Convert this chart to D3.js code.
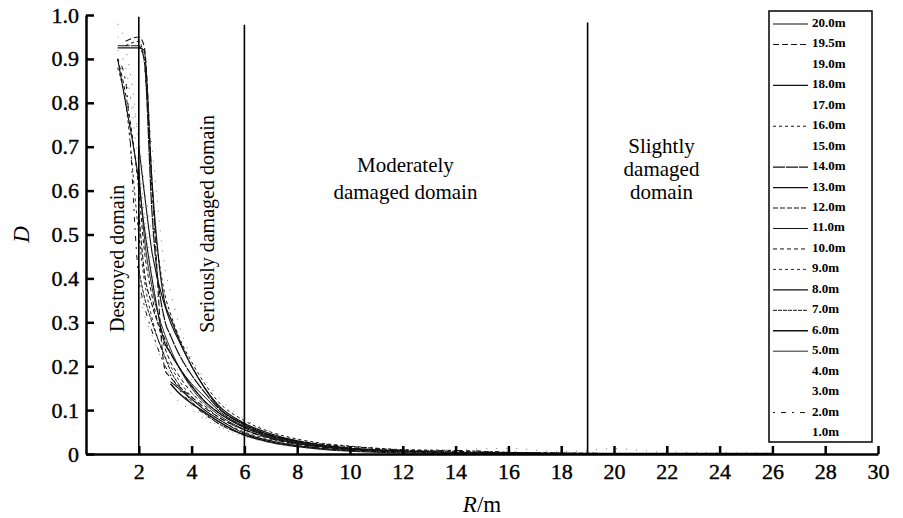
<!DOCTYPE html>
<html>
<head>
<meta charset="utf-8">
<script src="https://cdn.jsdelivr.net/npm/d3@7/dist/d3.min.js"></script>
<style>
  body { margin: 0; background: #fff; }
  text { font-family: "Liberation Serif", "Times New Roman", serif; fill: #000; }
</style>
</head>
<body>
<svg id="chart" width="903" height="518"></svg>
<script>
// datos (R en m, D adimensional)
const _ = null;
const radius = [1.2, 1.5, 2.0, 2.2, 2.5, 3.0, 3.2, 3.5, 4.0, 4.5, 5.0, 6.0, 7.0, 8.0, 9.0, 10.0, 12.0, 14.0, 16.0, 18.0, 20.0, 22.0, 24.0, 26.0];

const depths = ["20.0m", "19.5m", "19.0m", "18.0m", "17.0m", "16.0m", "15.0m", "14.0m", "13.0m", "12.0m",
  "11.0m", "10.0m", "9.0m", "8.0m", "7.0m", "6.0m", "5.0m", "4.0m", "3.0m", "2.0m", "1.0m"];

const d20_0 = [0.925,0.925,0.925,0.92,0.62,0.34,0.31,0.265,0.2,0.15,0.112,0.07,0.046,0.03,0.02,0.013,0.006,0.003,0.002,0.001,0.001,0.001,0.001,0.001];
const d19_5 = [_,0.94,0.95,0.93,0.62,0.19,0.175,0.155,0.13,0.105,0.085,0.055,0.035,0.022,0.015,0.01,0.005,0.003,0.002,0.001,0.001,_,_,_];
const d19_0 = [0.98,0.95,0.94,0.88,0.7,0.42,0.37,0.3,0.22,0.17,0.13,0.08,0.052,0.034,0.024,0.017,0.008,0.01,0.013,0.005,0.012,0.004,0.003,0.002];
const d18_0 = [_,_,0.7,0.6,0.46,0.335,0.3,0.26,0.2,0.15,0.108,0.068,0.043,0.028,0.019,0.013,0.006,0.003,0.002,0.001,0.001,_,_,_];
const d17_0 = [0.9,0.85,0.72,0.62,0.5,0.36,0.32,0.27,0.2,0.15,0.11,0.07,0.045,0.03,0.02,0.014,0.007,0.004,0.002,0.001,_,_,_,_];
const d16_0 = [_,0.93,0.94,0.9,0.6,0.36,0.32,0.27,0.21,0.16,0.12,0.076,0.05,0.034,0.024,0.018,0.01,0.008,0.004,0.002,0.001,_,_,_];
const d15_0 = [0.92,0.88,0.65,0.55,0.42,0.3,0.27,0.23,0.17,0.13,0.1,0.062,0.04,0.026,0.017,0.012,0.006,0.003,_,_,_,_,_,_];
const d14_0 = [0.93,0.93,0.93,0.9,0.55,0.3,0.27,0.23,0.18,0.14,0.105,0.066,0.042,0.028,0.019,0.013,0.007,0.004,0.002,0.001,0.001,0.001,0.001,_];
const d13_0 = [0.9,0.8,0.62,0.52,0.4,0.25,0.23,0.2,0.155,0.12,0.095,0.06,0.038,0.024,0.016,0.011,0.005,0.003,0.002,0.001,0.001,0.001,0.001,0.001];
const d12_0 = [_,_,0.55,0.42,0.34,0.26,0.23,0.2,0.155,0.12,0.095,0.062,0.042,0.03,0.022,0.017,0.009,0.006,0.003,0.002,0.001,_,_,_];
const d11_0 = [_,_,_,_,_,0.25,0.23,0.2,0.16,0.13,0.1,0.063,0.04,0.026,0.017,0.011,0.005,0.003,0.002,0.001,0.001,_,_,_];
const d10_0 = [0.9,0.82,0.6,0.47,0.36,0.24,0.21,0.18,0.14,0.11,0.085,0.055,0.037,0.025,0.018,0.013,0.007,0.004,0.002,0.001,_,_,_,_];
const d9_0  = [0.88,0.8,0.5,0.4,0.31,0.22,0.2,0.17,0.13,0.1,0.08,0.05,0.033,0.022,0.015,0.01,0.005,0.003,0.001,_,_,_,_,_];
const d8_0  = [_,_,_,_,_,_,0.165,0.15,0.125,0.1,0.08,0.047,0.03,0.019,0.012,0.008,0.004,0.002,0.001,_,_,_,_,_];
const d7_0  = [_,_,0.42,0.36,0.3,0.22,0.19,0.16,0.12,0.092,0.07,0.044,0.028,0.018,0.012,0.008,0.004,0.002,0.001,0.001,_,_,_,_];
const d6_0  = [_,_,_,_,_,_,0.16,0.14,0.115,0.095,0.075,0.043,0.027,0.017,0.011,0.007,0.003,0.002,0.001,0.001,0.001,0.001,0.001,0.001];
const d5_0  = [_,_,0.65,0.5,0.38,0.27,0.24,0.2,0.15,0.115,0.09,0.056,0.036,0.024,0.016,0.011,0.005,0.003,0.001,_,_,_,_,_];
const d4_0  = [_,_,_,_,_,_,0.14,0.12,0.1,0.08,0.062,0.04,0.025,0.016,0.01,0.007,0.003,0.002,_,_,_,_,_,_];
const d3_0  = [_,_,0.38,0.32,0.27,0.2,0.18,0.15,0.11,0.085,0.065,0.041,0.026,0.017,0.011,0.007,0.003,0.001,_,_,_,_,_,_];
const d2_0  = [0.9,0.85,0.4,0.34,0.28,0.2,0.18,0.15,0.115,0.09,0.07,0.045,0.03,0.02,0.014,0.01,0.006,0.008,0.004,0.002,0.001,0.001,_,_];
const d1_0  = [0.95,0.92,0.7,0.55,0.4,0.26,0.23,0.19,0.14,0.11,0.085,0.052,0.033,0.021,0.014,0.009,0.004,0.002,0.001,_,_,_,_,_];

const seriesValues = [d20_0, d19_5, d19_0, d18_0, d17_0, d16_0, d15_0, d14_0, d13_0, d12_0,
  d11_0, d10_0, d9_0, d8_0, d7_0, d6_0, d5_0, d4_0, d3_0, d2_0, d1_0];

const xTicks = [2, 4, 6, 8, 10, 12, 14, 16, 18, 20, 22, 24, 26, 28, 30];
const yTicks = [0, 0.1, 0.2, 0.3, 0.4, 0.5, 0.6, 0.7, 0.8, 0.9, 1.0];

// limites de zonas de dano
const boundaries = [2, 6, 19];
const boundaryTop = [0.996, 0.978, 0.983];

// estilos por serie (null = sin muestra en la leyenda, casi invisible)
const lineDash = ["none", "6,3", null, "none", null, "3,3", null, "12,1", "none", "5,2",
  "none", "4,3", "3,3", "none", "4,1", "none", "none", null, null, "2,6,5,6", null];
const lineWidth = [1.2, 1.1, 1, 1.1, 1, 1, 1, 1.2, 1.1, 1.1, 1, 1, 0.9, 1.1, 1, 1.5, 0.9, 1, 1, 1, 1];

const svg = d3.select("#chart");

const x = d3.scaleLinear().domain([0, 30]).range([86, 878]);
const y = d3.scaleLinear().domain([0, 1]).range([454, 15]);

// Curvas
const line = d3.line()
  .defined(d => d[1] != null)
  .x(d => x(d[0]))
  .y(d => y(d[1]))
  .curve(d3.curveMonotoneX);

seriesValues.forEach((vals, i) => {
  const pts = radius.map((r, j) => [r, vals[j]]);
  svg.append("path")
    .attr("d", line(pts))
    .attr("fill", "none")
    .attr("stroke", lineDash[i] == null ? "#777" : "#111")
    .attr("stroke-width", lineWidth[i])
    .attr("stroke-dasharray", lineDash[i] == null ? "1,9" : lineDash[i]);
});

// Lineas verticales de zonas
boundaries.forEach((b, i) => {
  svg.append("line")
    .attr("x1", x(b)).attr("x2", x(b))
    .attr("y1", y(0)).attr("y2", y(boundaryTop[i]))
    .attr("stroke", "#000")
    .attr("stroke-width", 1.6);
});

// Ejes
const xAxis = svg.append("g")
  .attr("transform", `translate(0,${y(0)})`)
  .call(d3.axisBottom(x).tickValues(xTicks).tickSizeInner(-8).tickSizeOuter(0).tickPadding(9).tickFormat(d3.format("d")));

const yAxis = svg.append("g")
  .attr("transform", `translate(${x(0)},0)`)
  .call(d3.axisLeft(y).tickValues(yTicks).tickSizeInner(-8).tickSizeOuter(0).tickPadding(7)
    .tickFormat(d => d === 0 ? "0" : d.toFixed(1)));

[xAxis, yAxis].forEach(a => {
  a.attr("font-family", "Liberation Serif").attr("font-size", 22);
  a.select(".domain").attr("stroke", "#000").attr("stroke-width", 2.5);
  a.selectAll(".tick line").attr("stroke", "#000").attr("stroke-width", 2.5);
  a.selectAll(".tick text")
    .attr("fill", "#000")
    .attr("stroke", "#000")
    .attr("stroke-width", 0.4);
});

// Titulos de ejes
svg.append("text")
  .attr("transform", `translate(29,${y(0.5)}) rotate(-90)`)
  .attr("text-anchor", "middle")
  .style("font-size", "23px")
  .style("font-style", "italic")
  .text("D");

const xt = svg.append("text")
  .attr("x", (x(0) + x(30)) / 2)
  .attr("y", 512)
  .attr("text-anchor", "middle")
  .style("font-size", "23px");
xt.append("tspan").style("font-style", "italic").text("R");
xt.append("tspan").text("/m");

// Etiquetas de dominios
svg.append("text")
  .attr("transform", `translate(${x(1.44)},${y(0.278)}) rotate(-90)`)
  .style("font-size", "20px")
  .text("Destroyed domain");

svg.append("text")
  .attr("transform", `translate(${x(4.85)},${y(0.276)}) rotate(-90)`)
  .style("font-size", "20px")
  .text("Seriously damaged domain");

const modLines = ["Moderately", "damaged domain"];
const modY = [0.643, 0.58];
modLines.forEach((t, i) => {
  svg.append("text")
    .attr("x", x(12.1)).attr("y", y(modY[i]))
    .attr("text-anchor", "middle")
    .style("font-size", "21px")
    .text(t);
});

const slLines = ["Slightly", "damaged", "domain"];
const slY = [0.685, 0.633, 0.58];
slLines.forEach((t, i) => {
  svg.append("text")
    .attr("x", x(21.8)).attr("y", y(slY[i]))
    .attr("text-anchor", "middle")
    .style("font-size", "21px")
    .text(t);
});

// Leyenda
const legend = svg.append("g");
legend.append("rect")
  .attr("x", 769).attr("y", 11)
  .attr("width", 103).attr("height", 431)
  .attr("fill", "#fff")
  .attr("stroke", "#000")
  .attr("stroke-width", 1.5);

depths.forEach((name, i) => {
  const ly = 24 + i * 20.45;
  if (lineDash[i] != null) {
    legend.append("line")
      .attr("x1", 773).attr("x2", 808)
      .attr("y1", ly).attr("y2", ly)
      .attr("stroke", "#111")
      .attr("stroke-width", lineWidth[i])
      .attr("stroke-dasharray", lineDash[i]);
  }
  legend.append("text")
    .attr("x", 812).attr("y", ly)
    .attr("dominant-baseline", "middle")
    .style("font-size", "13px")
    .style("font-weight", "bold")
    .text(name);
});
</script>
</body>
</html>
